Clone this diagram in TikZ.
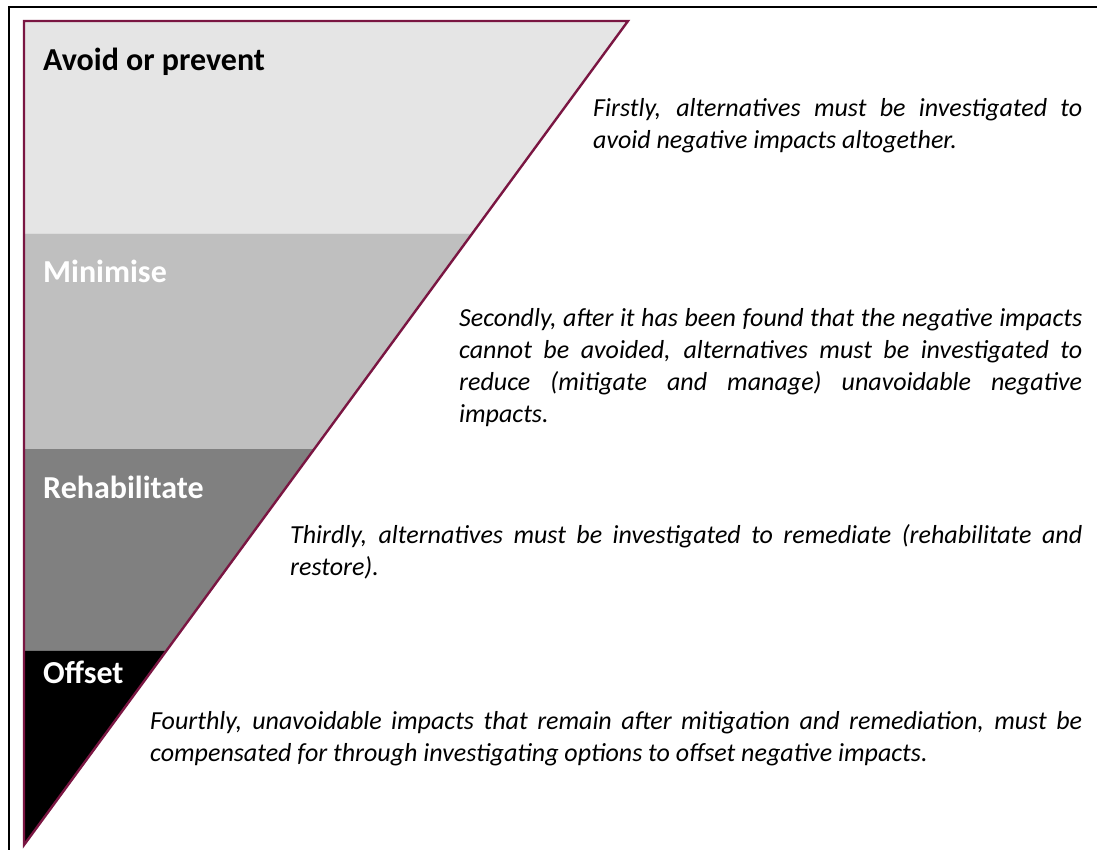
\documentclass[tikz,border=0pt]{standalone}
\usepackage{fontspec}
\setmainfont{Carlito}
\usetikzlibrary{calc}
\definecolor{wine}{RGB}{122,22,66}
\hbadness=10000
\begin{document}
\begin{tikzpicture}[x=1pt,y=-1pt]
\tikzstyle{tier}=[anchor=base west,inner sep=0pt,font=\fontsize{32}{38}\selectfont\bfseries]
\tikzstyle{note}=[anchor=base west,inner sep=0pt,align=justify,font=\fontsize{26}{32}\selectfont\itshape]
\useasboundingbox (0,0) rectangle (1097,849);

% frame
\draw[line width=2pt] (9,870) -- (9,7) -- (1120,7);

% corners of the triangle
\coordinate (tl) at (24,21);
\coordinate (tr) at (628,21);
\coordinate (bt) at (24,845);

% cuts on the slanted side
\coordinate (s1) at ($(tr)!0.258!(bt)$);
\coordinate (s2) at ($(tr)!0.5195!(bt)$);
\coordinate (s3) at ($(tr)!0.764!(bt)$);

\fill[black!10] (tl) -- (tr) -- (s1) -- (tl |- s1) -- cycle;
\fill[black!25] (tl |- s1) -- (s1) -- (s2) -- (tl |- s2) -- cycle;
\fill[black!50] (tl |- s2) -- (s2) -- (s3) -- (tl |- s3) -- cycle;
\fill[black] (tl |- s3) -- (s3) -- (bt) -- cycle;
\draw[wine,line width=2.4pt,line join=miter] (tl) -- (tr) -- (bt) -- cycle;

% level names
\node[tier,text=black] (avoid) at (43,70) {Avoid or prevent};
\node[tier,text=white] (minimise) at (43,282) {Minimise};
\node[tier,text=white] (rehab) at (43,498) {Rehabilitate};
\node[tier,text=white] (offset) at (43,683) {Offset};

% explanations
\node[note,text width=489pt] (first) at (593,116)
  {Firstly, alternatives must be investigated to\linebreak
   avoid negative impacts altogether.};
\node[note,text width=623pt] (second) at (459,326)
  {Secondly, after it has been found that the negative impacts\linebreak
   cannot be avoided, alternatives must be investigated to\linebreak
   reduce (mitigate and manage) unavoidable negative\linebreak
   impacts.};
\node[note,text width=792pt] (third) at (290,543)
  {Thirdly, alternatives must be investigated to remediate (rehabilitate and\linebreak
   restore).};
\node[note,text width=932pt] (fourth) at (150,729)
  {Fourthly, unavoidable impacts that remain after mitigation and remediation, must be\linebreak
   compensated for through investigating options to offset negative impacts.};
\end{tikzpicture}
\end{document}
